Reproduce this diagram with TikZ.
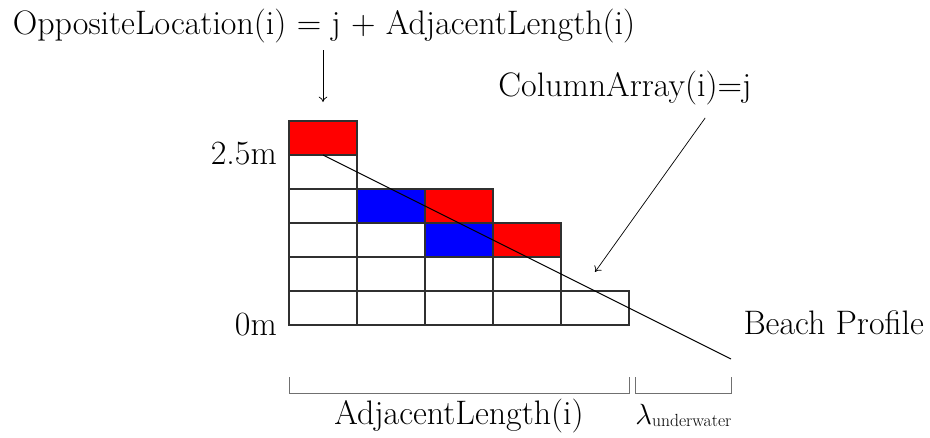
\documentclass[tikz,border=0pt]{standalone}
\usetikzlibrary{positioning,arrows.meta,calc}
\definecolor{cellred}{HTML}{FF0000}
\definecolor{cellblue}{HTML}{0000FF}
\definecolor{edge}{HTML}{303030}
\definecolor{tick}{HTML}{707070}
\tikzset{
  cell/.style  ={draw=edge, line width=1pt, minimum width=2.04cm, minimum height=1.02cm, inner sep=0pt, outer sep=0pt},
  lbl/.style   ={font=\fontsize{29}{33}\selectfont, inner sep=0pt},
  ptr/.style   ={draw=black, line width=.6pt, -{To[length=1.6mm,width=2.6mm]}},
  profile/.style={draw=black, line width=.8pt},
  brack/.style ={draw=tick, line width=.8pt},
}

\begin{document}
\begin{tikzpicture}[x=2.04cm,y=1.02cm]
    \useasboundingbox (-4.25,-3.294) rectangle (9.426,9.559);
    % grid columns, bottom row is 0
    \foreach \c/\r/\col in {0/0/white,0/1/white,0/2/white,0/3/white,0/4/white,0/5/cellred,
                            1/0/white,1/1/white,1/2/white,1/3/cellblue,
                            2/0/white,2/1/white,2/2/cellblue,2/3/cellred,
                            3/0/white,3/1/white,3/2/cellred,
                            4/0/white}
      \node[cell,fill=\col] (c\c\r) at (\c+0.5,\r+0.5) {};

    \node[lbl,anchor=base east] (top) at (-0.176,4.71) {2.5m};
    \node[lbl,anchor=base east] (bot) at (-0.176,-0.32) {0m};
    \node[lbl,anchor=base west] (beach) at (6.68,-0.29) {Beach Profile};
    \node[lbl,anchor=base] (opp) at (0.515,8.53) {OppositeLocation(i) = j + AdjacentLength(i)};
    \node[lbl,anchor=base] (colarr) at (4.94,6.71) {ColumnArray(i)=j};

    \coordinate (pend) at (6.5,-1);
    \draw[profile] (c05.south) -- (pend);

    \coordinate (colfrom) at (6.12,6.09);
    \coordinate (colto) at (4.5,1.56);
    \draw[ptr] (colfrom) -- (colto);
    \draw[ptr,shorten <=0.2cm,shorten >=0.57cm] (opp.south -| c05.north) -- (c05.north);

    % extents under the profile
    \draw[brack] (0,-1.53) |- (5,-2) -- (5,-1.53);
    \draw[brack] (5.1,-1.53) |- (6.5,-2) -- (6.5,-1.53);
    \node[lbl,anchor=base] (adj) at (2.5,-2.94) {AdjacentLength(i)};
    \node[lbl,anchor=base] (lam) at (5.8,-2.94) {$\lambda$\fontsize{15}{18}\selectfont\raisebox{-0.2ex}{underwater}};
  \end{tikzpicture}
\end{document}
